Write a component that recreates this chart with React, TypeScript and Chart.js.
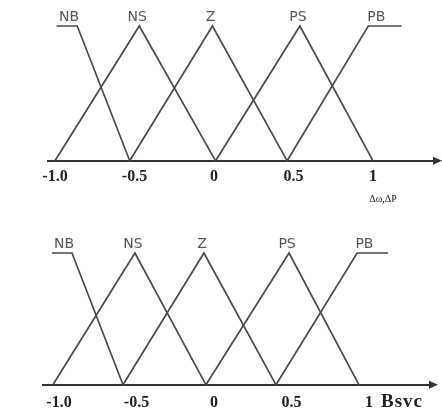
import React, { useEffect, useRef } from "react";
import { Chart, registerables } from "chart.js";

Chart.register(...registerables);

// Fuzzy set names, left to right
const setNames = ["NB", "NS", "Z", "PS", "PB"];

// Axis ticks shared by both panels
const tickValues = [-1, -0.5, 0, 0.5, 1];
const upperTickLabels = ["-1.0", "-0.5", "0", "0.5", "1"];
const lowerTickLabels = ["-1.0", "-0.5", "0", "0.5", "1"];
const upperUnit = "Δω,ΔP";
const lowerUnit = "Bsvc";

// Upper panel membership functions: [input, membership degree]
const upperNB = [[-0.99, 1], [-0.86, 1], [-0.53, 0]];
const upperNS = [[-1.0, 0], [-0.47, 1], [0.01, 0]];
const upperZ = [[-0.53, 0], [-0.01, 1], [0.46, 0]];
const upperPS = [[0.01, 0], [0.54, 1], [1.0, 0]];
const upperPB = [[0.46, 0], [0.97, 1], [1.18, 1]];

// Lower panel membership functions: [input, membership degree]
const lowerNB = [[-1.045, 1], [-0.916, 1], [-0.587, 0]];
const lowerNS = [[-1.039, 0], [-0.51, 1], [-0.052, 0]];
const lowerZ = [[-0.587, 0], [-0.065, 1], [0.4, 0]];
const lowerPS = [[-0.052, 0], [0.484, 1], [0.935, 0]];
const lowerPB = [[0.4, 0], [0.923, 1], [1.123, 1]];

// Visible axis range of each panel
const upperRange = [-1.044, 1.396];
const lowerRange = [-1.103, 1.406];

type PanelSpec = {
  sets: number[][][];
  tickLabels: string[];
  unit: string;
  unitBelow: boolean;
  range: number[];
  top: number;
  height: number;
  padding: { left: number; right: number; top: number; bottom: number };
  tickPadding: number;
};

const LINE = "#4a4a4a";
const AXIS = "#333333";
const LABEL = "#56564a";
const TICK = "#222222";

function labelAnchor(pts: number[][]) {
  const top = pts.filter((p) => p[1] === 1);
  if (top.length === 1) return top[0][0];
  // shoulder sets: lean towards the corner where the slope starts
  const inner = pts[0][1] === 0 ? top[0][0] : top[top.length - 1][0];
  const outer = pts[0][1] === 0 ? top[top.length - 1][0] : top[0][0];
  return 0.7 * inner + 0.3 * outer;
}

function makeOverlay(spec: PanelSpec) {
  return {
    id: "membershipOverlay",
    afterDraw(chart: any) {
      const { ctx, chartArea, scales } = chart;
      const xs = scales.x;
      const ys = scales.y;
      ctx.save();

      // arrow head at the right end of the input axis
      const ay = chartArea.bottom;
      const ax = chartArea.right;
      ctx.fillStyle = AXIS;
      ctx.beginPath();
      ctx.moveTo(ax + 6, ay);
      ctx.lineTo(ax - 3, ay - 4);
      ctx.lineTo(ax - 3, ay + 4);
      ctx.closePath();
      ctx.fill();

      // set names above each peak
      ctx.font = "14px 'DejaVu Sans'";
      ctx.fillStyle = LABEL;
      ctx.textAlign = "center";
      ctx.textBaseline = "middle";
      spec.sets.forEach((pts, i) => {
        const px = xs.getPixelForValue(labelAnchor(pts)) - 2;
        const py = ys.getPixelForValue(1) - 9;
        ctx.fillText(setNames[i], px, py);
      });

      // quantity name next to the last tick
      const x1 = xs.getPixelForValue(1);
      const tickY = chartArea.bottom + spec.tickPadding + 9;
      ctx.fillStyle = TICK;
      if (spec.unitBelow) {
        ctx.font = "10px 'Liberation Serif'";
        ctx.textAlign = "center";
        ctx.fillText(spec.unit, x1 + 10, tickY + 24);
      } else {
        ctx.font = "bold 19px 'Liberation Serif'";
        ctx.textAlign = "left";
        (ctx as any).letterSpacing = "1px";
        ctx.fillText(spec.unit, x1 + 12, tickY);
      }
      ctx.restore();
    },
  };
}

function Panel({ spec }: { spec: PanelSpec }) {
  const ref = useRef<HTMLCanvasElement | null>(null);
  useEffect(() => {
    if (!ref.current) return;
    const chart = new Chart(ref.current, {
      type: "line",
      data: {
        datasets: spec.sets.map((pts, i) => ({
          label: setNames[i],
          data: pts.map((p) => ({ x: p[0], y: p[1] })),
          borderColor: LINE,
          borderWidth: 1.7,
          pointRadius: 0,
          tension: 0,
          fill: false,
          clip: false,
        })),
      },
      options: {
        responsive: false,
        animation: false,
        events: [],
        layout: { padding: spec.padding },
        plugins: { legend: { display: false }, tooltip: { enabled: false } },
        scales: {
          x: {
            type: "linear",
            min: spec.range[0],
            max: spec.range[1],
            afterBuildTicks: (scale: any) => {
              scale.ticks = tickValues.map((v) => ({ value: v }));
            },
            grid: { display: false, drawTicks: false },
            border: { display: true, color: AXIS, width: 2 },
            ticks: {
              autoSkip: false,
              maxRotation: 0,
              padding: spec.tickPadding,
              color: TICK,
              font: { family: "'Liberation Serif'", size: 16, weight: "bold" },
              callback: (_v: any, i: number) => spec.tickLabels[i],
            },
          },
          y: { type: "linear", display: false, min: 0, max: 1 },
        },
      },
      plugins: [makeOverlay(spec)],
    } as any);
    return () => chart.destroy();
  }, [spec]);
  return (
    <canvas
      ref={ref}
      width={442}
      height={spec.height}
      style={{ display: "block", position: "absolute", left: 0, top: spec.top }}
    />
  );
}

const upperSpec: PanelSpec = {
  sets: [upperNB, upperNS, upperZ, upperPS, upperPB],
  tickLabels: upperTickLabels,
  unit: upperUnit,
  unitBelow: true,
  range: upperRange,
  top: 0,
  height: 210,
  padding: { left: 48, right: 6, top: 26, bottom: 18 },
  tickPadding: 6,
};

const lowerSpec: PanelSpec = {
  sets: [lowerNB, lowerNS, lowerZ, lowerPS, lowerPB],
  tickLabels: lowerTickLabels,
  unit: lowerUnit,
  unitBelow: false,
  range: lowerRange,
  top: 200,
  height: 240,
  padding: { left: 43, right: 10, top: 53, bottom: 20 },
  tickPadding: 8,
};

export default function App() {
  return (
    <div
      style={{
        position: "absolute",
        left: 0,
        top: 0,
        width: 442,
        height: 416,
        background: "#ffffff",
        overflow: "hidden",
      }}
    >
      <Panel spec={upperSpec} />
      <Panel spec={lowerSpec} />
    </div>
  );
}
